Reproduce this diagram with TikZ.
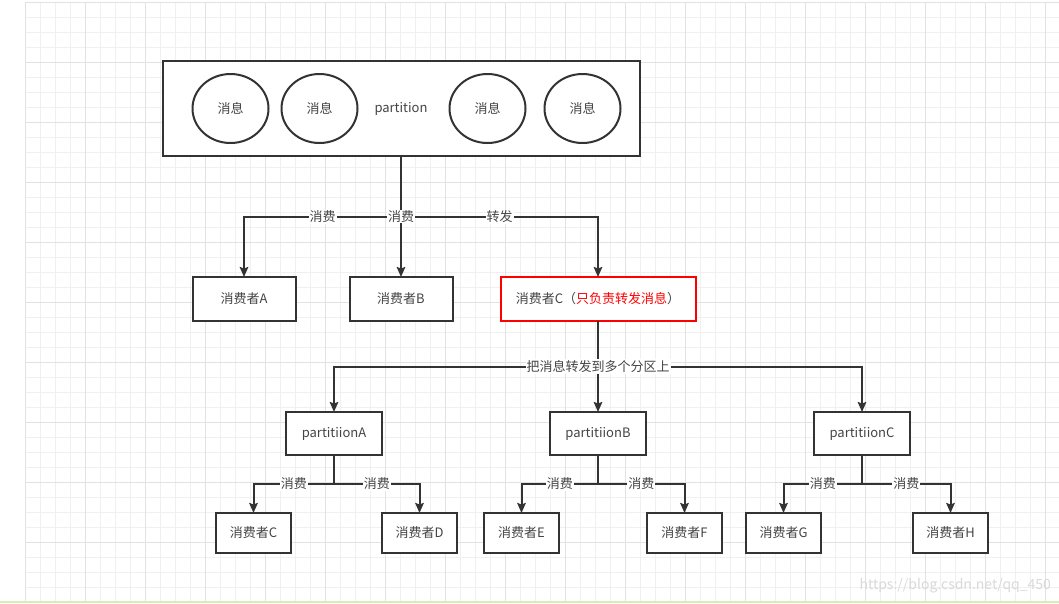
\documentclass[tikz,border=0pt]{standalone}
\usepackage{fontspec}
\setmainfont{Noto Sans CJK SC}
\usetikzlibrary{arrows.meta, positioning, shapes.geometric}

\definecolor{linegray}{HTML}{333333}
\definecolor{textgray}{HTML}{444444}
\definecolor{gridminor}{HTML}{F0F0F0}
\definecolor{gridmajor}{HTML}{E2E2E2}
\definecolor{bottomgreen}{HTML}{D6EDB4}

\begin{document}
\begin{tikzpicture}[x=1pt, y=1pt]
    \tikzstyle{msgnode}=[draw=linegray, line width=2pt, ellipse, fill=white, text=textgray, font=\fontsize{13}{15}\selectfont, minimum width=76pt, minimum height=69pt, inner sep=0pt, outer sep=0pt]
    \tikzstyle{conbox}=[draw=linegray, line width=2pt, rectangle, fill=white, text=textgray, font=\fontsize{13}{15}\selectfont, minimum width=103pt, minimum height=44pt, inner sep=0pt, outer sep=0pt]
    \tikzstyle{fwdbox}=[conbox, draw=red, minimum width=195pt]
    \tikzstyle{partbox}=[conbox, minimum width=96pt, minimum height=43pt]
    \tikzstyle{leafbox}=[conbox, minimum width=75pt, minimum height=40pt]
    \tikzstyle{arrow}=[draw=linegray, line width=2pt, -{Stealth[length=10pt, width=8.5pt, inset=1.5pt]}]
    \tikzstyle{plainline}=[draw=linegray, line width=2pt]
    \tikzstyle{edgelabel}=[fill=white, inner sep=1pt, text=textgray, font=\fontsize{13}{15}\selectfont]

    % canvas and grid
    \useasboundingbox (0,0) rectangle (1059,-603);
    \fill[white] (0,0) rectangle (1059,-603);
    \begin{scope}[shift={(25,-2)}]
        \draw[gridminor, line width=1pt, step=15pt] (0,0) grid (1034,-599);
        \draw[gridmajor, line width=1pt, step=60pt] (0,0) grid (1034,-599);
    \end{scope}
    \fill[bottomgreen] (0,-600.5) rectangle (1059,-603);
    \node[anchor=west, text=gray!30, font=\fontsize{14}{16}\selectfont] (mark) at (856,-586) {https://blog.csdn.net/qq\_450};

    % partition with messages
    \node[conbox, minimum width=477pt, minimum height=95pt] (part) at (401,-108.5) {partition};
    \node[msgnode, right=30pt of part.west] (msg1) {消息};
    \node[msgnode, right=13pt of msg1] (msg2) {消息};
    \node[msgnode, left=19pt of part.east] (msg4) {消息};
    \node[msgnode, left=19pt of msg4] (msg3) {消息};

    % first consumers
    \node[conbox, below=121pt of part] (conB) {消费者B};
    \node[conbox, left=54pt of conB] (conA) {消费者A};
    \node[fwdbox, right=48pt of conB] (conC) {消费者C（\textcolor{red}{只负责转发消息}）};

    \coordinate[below=61pt of part] (split1);
    \draw[arrow] (split1) -| node[edgelabel, pos=0.25] {消费} (conA);
    \draw[arrow] (split1) -| node[edgelabel, pos=0.25] {转发} (conC);
    \draw[arrow] (part) -- node[edgelabel] {消费} (conB);

    % partitions
    \node[partbox, below=91pt of conC] (pB) {partitiionB};
    \node[partbox, left=168pt of pB] (pA) {partitiionA};
    \node[partbox, right=168pt of pB] (pC) {partitiionC};

    \coordinate[below=46pt of conC] (split2);
    \draw[arrow] (split2) -| (pA);
    \draw[arrow] (split2) -| (pC);
    \draw[arrow] (conC) -- node[edgelabel] {把消息转发到多个分区上} (pB);

    % last consumers
    \node[leafbox, below=58pt of pA, xshift=-80.5pt] (cC) {消费者C};
    \node[leafbox, right=91pt of cC] (cD) {消费者D};
    \node[leafbox, right=27pt of cD] (cE) {消费者E};
    \node[leafbox, right=88pt of cE] (cF) {消费者F};
    \node[leafbox, right=24pt of cF] (cG) {消费者G};
    \node[leafbox, right=92pt of cG] (cH) {消费者H};

    \coordinate[below=29pt of pA] (splitA);
    \coordinate[below=29pt of pB] (splitB);
    \coordinate[below=29pt of pC] (splitC);

    \draw[plainline] (pA) -- (splitA);
    \draw[arrow] (splitA) -| node[edgelabel, pos=0.25] {消费} (cC);
    \draw[arrow] (splitA) -| node[edgelabel, pos=0.25] {消费} (cD);

    \draw[plainline] (pB) -- (splitB);
    \draw[arrow] (splitB) -| node[edgelabel, pos=0.25] {消费} (cE);
    \draw[arrow] (splitB) -| node[edgelabel, pos=0.25] {消费} (cF);

    \draw[plainline] (pC) -- (splitC);
    \draw[arrow] (splitC) -| node[edgelabel, pos=0.25] {消费} (cG);
    \draw[arrow] (splitC) -| node[edgelabel, pos=0.25] {消费} (cH);
\end{tikzpicture}
\end{document}
